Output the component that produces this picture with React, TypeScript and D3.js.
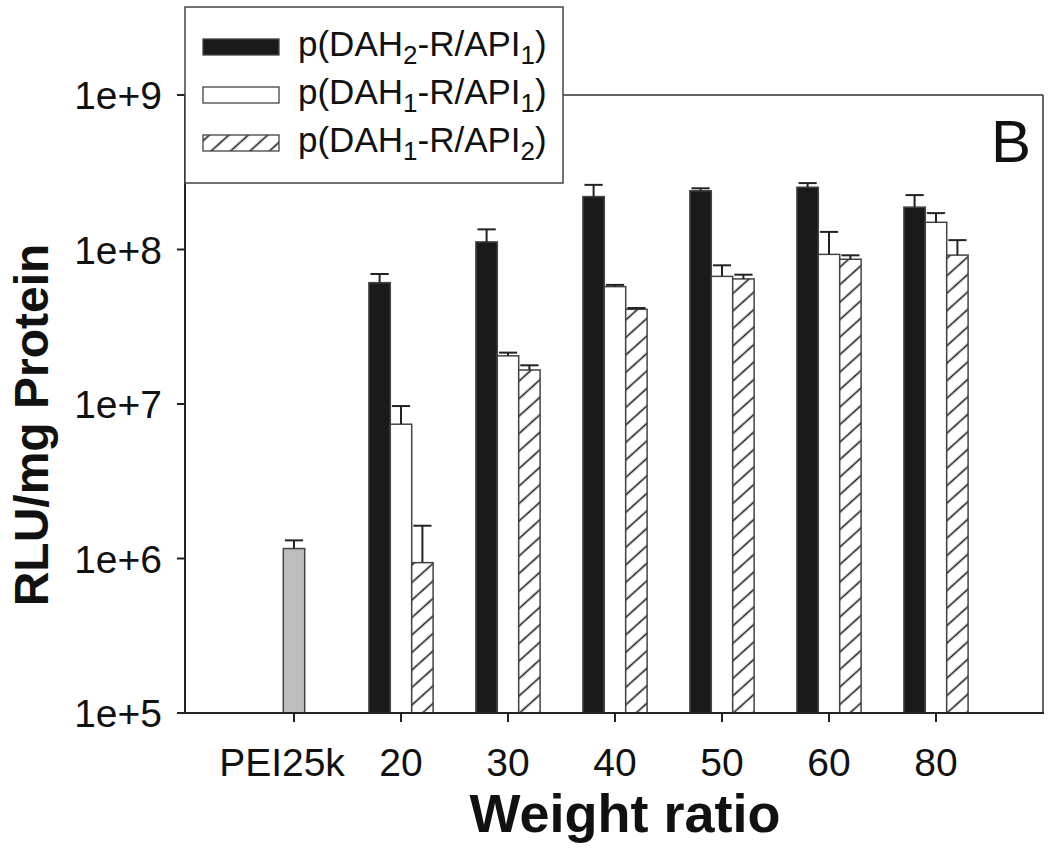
import React from "react";
import * as d3 from "d3";

const categories = ["PEI25k", "20", "30", "40", "50", "60", "80"];
const ratios = ["20", "30", "40", "50", "60", "80"];
const seriesNames = ["DAH2/API1", "DAH1/API1", "DAH1/API2"];

const peiMean = 1.16e6;
const peiErr = 0.15e6;

const dah2api1 = [6.1e7, 1.12e8, 2.2e8, 2.4e8, 2.53e8, 1.88e8];
const dah2api1Err = [0.84e7, 0.23e8, 0.42e8, 0.09e8, 0.16e8, 0.37e8];
const dah1api1 = [7.4e6, 2.05e7, 5.75e7, 6.7e7, 9.3e7, 1.5e8];
const dah1api1Err = [2.3e6, 0.1e7, 0.15e7, 1.2e7, 3.7e7, 0.22e8];
const dah1api2 = [9.4e5, 1.66e7, 4.1e7, 6.45e7, 8.65e7, 9.2e7];
const dah1api2Err = [6.9e5, 0.12e7, 0.08e7, 0.42e7, 0.52e7, 2.3e7];

const yTicks = [1e5, 1e6, 1e7, 1e8, 1e9];
const yTickLabels = ["1e+5", "1e+6", "1e+7", "1e+8", "1e+9"];

const W = 1050;
const H = 862;
const left = 185;
const right = 1043;
const top = 95;
const bottom = 713;

const FONT = "Liberation Sans, Arial, Helvetica, sans-serif";

export default function App() {
  const x = d3.scalePoint<string>().domain(categories).range([187, 1043]).padding(1);
  const y = d3.scaleLog().domain([1e5, 1e9]).range([bottom, top]);
  const step = x.step();
  const barW = step * 0.2;
  const inner = d3.scaleBand<string>().domain(seriesNames).range([-1.5 * barW, 1.5 * barW]).padding(0);

  const series = [
    { name: seriesNames[0], vals: dah2api1, errs: dah2api1Err, fill: "#1a1a1a" },
    { name: seriesNames[1], vals: dah1api1, errs: dah1api1Err, fill: "#ffffff" },
    { name: seriesNames[2], vals: dah1api2, errs: dah1api2Err, fill: "url(#hatch)" },
  ];

  const bars: any[] = [];
  const errs: any[] = [];
  const capW = barW * 0.85;

  {
    const cx = x("PEI25k")!;
    const yt = y(peiMean);
    bars.push(
      <rect key="pei" x={cx - barW / 2} y={yt} width={barW} height={bottom - yt}
        fill="#bdbdbd" stroke="#444" strokeWidth={1.5} />
    );
    const ye = y(peiMean + peiErr);
    errs.push(
      <g key="peie" stroke="#222" strokeWidth={2}>
        <line x1={cx} x2={cx} y1={yt} y2={ye} />
        <line x1={cx - capW / 2} x2={cx + capW / 2} y1={ye} y2={ye} />
      </g>
    );
  }

  series.forEach((s) => {
    ratios.forEach((r, i) => {
      const bx = x(r)! + inner(s.name)!;
      const yt = y(s.vals[i]);
      bars.push(
        <rect key={s.name + r} x={bx} y={yt} width={barW} height={bottom - yt}
          fill={s.fill} stroke="#444" strokeWidth={1.5} />
      );
      const cx = bx + barW / 2;
      const ye = y(s.vals[i] + s.errs[i]);
      errs.push(
        <g key={"e" + s.name + r} stroke="#222" strokeWidth={2}>
          <line x1={cx} x2={cx} y1={yt} y2={ye} />
          <line x1={cx - capW / 2} x2={cx + capW / 2} y1={ye} y2={ye} />
        </g>
      );
    });
  });

  const legendItems = [
    { fill: "#1a1a1a", a: "2", b: "1" },
    { fill: "#ffffff", a: "1", b: "1" },
    { fill: "url(#hatch)", a: "1", b: "2" },
  ];

  return (
    <svg width={W} height={H} style={{ position: "absolute", left: 0, top: 0, background: "#fff" }}
      fontFamily={FONT}>
      <defs>
        <pattern id="hatch" patternUnits="userSpaceOnUse" width={13} height={13}
          patternTransform="rotate(-42)">
          <rect width={13} height={13} fill="#fff" />
          <line x1={0} y1={6.5} x2={13} y2={6.5} stroke="#1a1a1a" strokeWidth={1.6} />
        </pattern>
      </defs>
      <rect width={W} height={H} fill="#fff" />

      <line x1={left} x2={right} y1={top} y2={top} stroke="#333" strokeWidth={1.5} />
      <line x1={right} x2={right} y1={top} y2={bottom} stroke="#333" strokeWidth={1.5} />

      {bars}
      {errs}

      <line x1={left} x2={left} y1={top} y2={bottom + 1} stroke="#222" strokeWidth={2} />
      <line x1={left - 8} x2={right + 1} y1={bottom} y2={bottom} stroke="#222" strokeWidth={2} />
      {yTicks.map((t, i) => (
        <g key={t}>
          <line x1={left - 8} x2={left} y1={y(t)} y2={y(t)} stroke="#222" strokeWidth={2} />
          <text x={162} y={y(t)} dy="0.36em" textAnchor="end" fontSize={39} fill="#111">
            {yTickLabels[i]}
          </text>
        </g>
      ))}
      {categories.map((c, i) => (
        <g key={c}>
          <line x1={x(c)!} x2={x(c)!} y1={bottom} y2={bottom + 9} stroke="#222" strokeWidth={2} />
          <text x={x(c)!} dx={i === 0 ? -12 : 0} y={776} textAnchor="middle" fontSize={39} fill="#111">{c}</text>
        </g>
      ))}

      <text x={625} y={832} textAnchor="middle" fontSize={54} fontWeight="bold" fill="#111">
        Weight ratio
      </text>
      <text transform={`translate(48, ${(top + bottom) / 2 + 21}) rotate(-90)`} textAnchor="middle"
        fontSize={48} fontWeight="bold" fill="#111">
        RLU/mg Protein
      </text>

      <text x={1031} y={162} textAnchor="end" fontSize={60} fill="#111">B</text>

      <rect x={185} y={7} width={378} height={176} fill="#fff" stroke="#444" strokeWidth={1.5} />
      {legendItems.map((it, i) => (
        <g key={i}>
          <rect x={203} y={39 + i * 48} width={76} height={16} fill={it.fill} stroke="#444" strokeWidth={1.3} />
          <text x={298} y={56 + i * 48} fontSize={35} fill="#111">
            p(DAH<tspan fontSize={26} dy={8}>{it.a}</tspan>
            <tspan dy={-8}>-R/API</tspan>
            <tspan fontSize={26} dy={8}>{it.b}</tspan>
            <tspan dy={-8}>)</tspan>
          </text>
        </g>
      ))}
    </svg>
  );
}
